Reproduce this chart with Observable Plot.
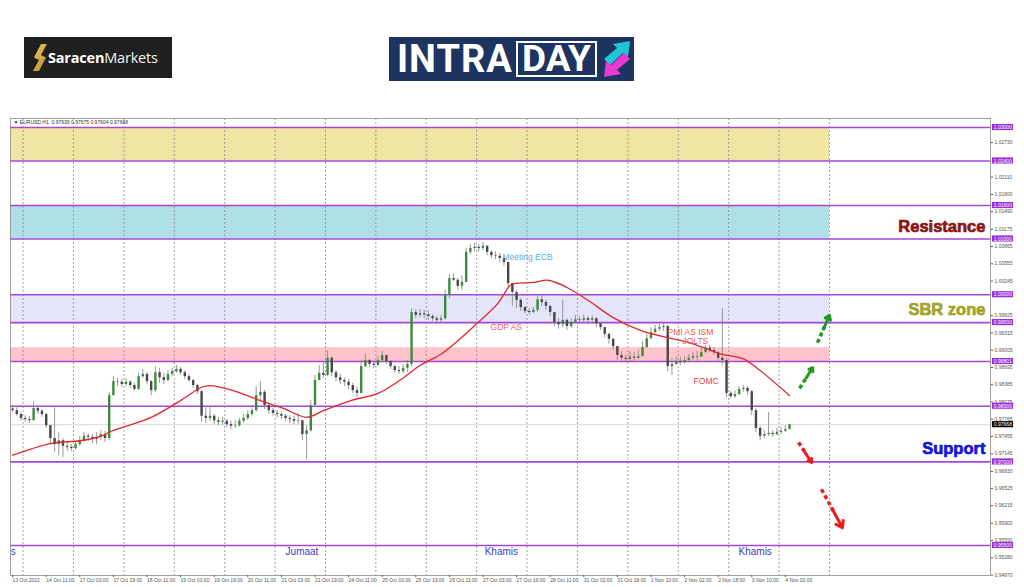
<!DOCTYPE html>
<html><head><meta charset="utf-8">
<script src="https://cdn.jsdelivr.net/npm/d3@7"></script>
<script src="https://cdn.jsdelivr.net/npm/@observablehq/plot@0.6"></script>
<style>
html,body{margin:0;padding:0;background:#fff;}
body{width:1024px;height:587px;overflow:hidden;font-family:"Liberation Sans",Arial,sans-serif;}
#header{position:relative;width:1024px;height:118px;}
.saracen{position:absolute;left:24px;top:37px;width:148px;height:41px;background:#1f1f1f;}
.saracen svg{position:absolute;left:9px;top:7px;}
.saracen .sname{position:absolute;left:24px;top:0;line-height:41px;font-family:"Open Sans","Liberation Sans",sans-serif;font-size:14.5px;color:#fff;letter-spacing:-0.2px;white-space:nowrap;}
.saracen .sname b{font-weight:700;}
.saracen .sname span{font-weight:400;color:#f2f2f2;}
.intraday{position:absolute;left:389px;top:37px;width:245px;height:44px;background:#1d3461;}
.intraday .intra{position:absolute;left:8px;top:0;height:44px;line-height:44px;font-family:Roboto,"Liberation Sans",sans-serif;font-weight:700;font-size:38px;letter-spacing:1px;color:#fff;white-space:nowrap;}
.intraday .day{position:absolute;left:127px;top:4px;width:77px;height:32px;border:2.5px solid #fff;line-height:32px;text-align:center;font-family:Roboto,"Liberation Sans",sans-serif;font-weight:700;font-size:37px;color:#fff;white-space:nowrap;}
.intraday svg{position:absolute;left:213px;top:3px;}
#chart svg{display:block;}
</style></head>
<body>
<div id="header">
  <div class="saracen">
    <svg width="14" height="27" viewBox="0 0 14 27">
      <defs><linearGradient id="gold" x1="0" y1="0" x2="1" y2="1"><stop offset="0" stop-color="#f5cd62"/><stop offset="1" stop-color="#b7852b"/></linearGradient></defs>
      <path d="M8 0 L14 0 L8 11 L13 13.5 L6 27 L0 27 L6 16 L1 13.5 Z" fill="url(#gold)"/>
    </svg>
    <span class="sname"><b>Saracen</b><span>Markets</span></span>
  </div>
  <div class="intraday">
    <span class="intra">INTRA</span><span class="day">DAY</span>
    <svg width="30" height="38" viewBox="0 0 30 38">
      <polygon points="2,19 15,8 11,4 28,1 26,17 21,13 8,25" fill="#21c6d6"/>
      <polygon points="28,19 15,30 19,34 2,37 4,21 9,25 22,13" fill="#e83ad0"/>
    </svg>
  </div>
</div>
<div id="chart"></div>
<script>
// ---------- data ----------
const symbolInfo = "\u25BC EURUSD,H1  0.97639 0.97675 0.97604 0.97668";
const firstOpen = 0.9795;
// 2-hour candles, starting 13 Oct 2022 19:00
const closes = [
0.9792,0.9785,0.9778,0.9776,0.9774,0.9796,0.9791,0.9785,0.9765,0.9742,
0.9731,0.9738,0.9728,0.9726,0.9724,0.9731,0.9738,0.9746,0.9744,0.9740,
0.9744,0.9749,0.9742,0.9819,0.9844,0.9843,0.9839,0.9843,0.9837,0.9830,
0.9853,0.9857,0.9844,0.9828,0.9860,0.9851,0.9846,0.9857,0.9862,0.9866,
0.9860,0.9853,0.9846,0.9837,0.9826,0.9782,0.9778,0.9782,0.9774,0.9771,
0.9773,0.9767,0.9764,0.9765,0.9773,0.9778,0.9785,0.9792,0.9819,0.9825,
0.9801,0.9792,0.9787,0.9785,0.9782,0.9778,0.9776,0.9773,0.9774,0.9749,
0.9756,0.9801,0.9846,0.9859,0.9855,0.9886,0.9860,0.9851,0.9846,0.9843,
0.9837,0.9828,0.9823,0.9871,0.9882,0.9875,0.9873,0.9882,0.9891,0.9880,
0.9871,0.9864,0.9862,0.9868,0.9875,0.9968,0.9963,0.9966,0.9964,0.9961,
0.9957,0.9954,0.9957,0.9999,1.0029,1.0026,1.0015,1.0022,1.0076,1.0083,
1.0085,1.0083,1.0087,1.0076,1.0070,1.0069,1.0065,1.0058,1.0020,1.0004,
0.9990,0.9977,0.9970,0.9968,0.9972,0.9991,0.9986,0.9979,0.9968,0.9950,
0.9946,0.9954,0.9943,0.9950,0.9955,0.9954,0.9957,0.9954,0.9957,0.9948,
0.9941,0.9929,0.9920,0.9907,0.9891,0.9886,0.9884,0.9888,0.9886,0.9889,
0.9905,0.9921,0.9932,0.9938,0.9941,0.9943,0.9871,0.9875,0.9880,0.9878,
0.9882,0.9886,0.9889,0.9888,0.9896,0.9904,0.9900,0.9896,0.9886,0.9882,
0.9823,0.9817,0.9821,0.9830,0.9832,0.9826,0.9792,0.9760,0.9746,0.9749,
0.9751,0.9749,0.9753,0.9755,0.9758,0.97668];
const highs = [
0.9801,0.9797,0.9789,0.9783,0.9782,0.9807,0.9799,0.9794,0.9787,0.9765,
0.9797,0.9753,0.9742,0.9735,0.9731,0.9735,0.9746,0.9753,0.9751,0.9749,
0.9753,0.9756,0.9755,0.9825,0.9853,0.9850,0.9848,0.9850,0.9846,0.9841,
0.9860,0.9866,0.9860,0.9846,0.9871,0.9868,0.9859,0.9864,0.9868,0.9873,
0.9869,0.9864,0.9857,0.9848,0.9839,0.9828,0.9797,0.9799,0.9785,0.9780,
0.9780,0.9776,0.9773,0.9774,0.9778,0.9785,0.9792,0.9801,0.9835,0.9844,
0.9828,0.9803,0.9796,0.9792,0.9789,0.9785,0.9783,0.9782,0.9787,0.9774,
0.9765,0.9810,0.9855,0.9873,0.9878,0.9900,0.9889,0.9864,0.9857,0.9851,
0.9848,0.9841,0.9834,0.9882,0.9893,0.9884,0.9880,0.9889,0.9898,0.9891,
0.9882,0.9873,0.9871,0.9875,0.9882,0.9975,0.9973,0.9973,0.9972,0.9970,
0.9964,0.9961,0.9963,1.0008,1.0036,1.0038,1.0029,1.0034,1.0083,1.0090,
1.0092,1.0090,1.0094,1.0088,1.0079,1.0077,1.0074,1.0068,1.0058,1.0020,
1.0008,0.9993,0.9979,0.9975,0.9977,0.9997,0.9997,0.9990,0.9981,0.9968,
0.9957,0.9990,0.9957,0.9957,0.9963,0.9961,0.9964,0.9961,0.9963,0.9959,
0.9950,0.9941,0.9930,0.9921,0.9907,0.9898,0.9891,0.9898,0.9896,0.9900,
0.9916,0.9930,0.9941,0.9945,0.9948,0.9950,0.9945,0.9886,0.9888,0.9888,
0.9889,0.9893,0.9896,0.9898,0.9904,0.9909,0.9909,0.9905,0.9898,0.9975,
0.9886,0.9826,0.9828,0.9835,0.9837,0.9835,0.9828,0.9796,0.9764,0.9756,
0.9789,0.9756,0.9760,0.9762,0.9765,0.97675];
const lows = [
0.9789,0.9782,0.9773,0.9771,0.9769,0.9773,0.9785,0.9780,0.9760,0.9733,
0.9717,0.9711,0.9708,0.9719,0.9719,0.9721,0.9728,0.9735,0.9737,0.9733,
0.9731,0.9738,0.9735,0.9738,0.9819,0.9835,0.9834,0.9835,0.9832,0.9826,
0.9828,0.9850,0.9839,0.9819,0.9825,0.9841,0.9839,0.9844,0.9853,0.9859,
0.9855,0.9848,0.9843,0.9832,0.9821,0.9771,0.9769,0.9773,0.9767,0.9765,
0.9765,0.9762,0.9758,0.9760,0.9762,0.9769,0.9774,0.9782,0.9789,0.9810,
0.9794,0.9785,0.9782,0.9778,0.9776,0.9773,0.9769,0.9767,0.9767,0.9738,
0.9704,0.9753,0.9801,0.9846,0.9850,0.9853,0.9853,0.9844,0.9839,0.9835,
0.9830,0.9823,0.9815,0.9821,0.9869,0.9869,0.9867,0.9871,0.9880,0.9875,
0.9866,0.9859,0.9857,0.9859,0.9860,0.9871,0.9957,0.9959,0.9957,0.9954,
0.9952,0.9948,0.9950,0.9954,0.9993,1.0024,1.0008,1.0008,1.0024,1.0072,
1.0077,1.0076,1.0079,1.0070,1.0065,1.0063,1.0058,1.0051,1.0011,0.9979,
0.9975,0.9970,0.9966,0.9964,0.9966,0.9968,0.9979,0.9972,0.9961,0.9943,
0.9938,0.9941,0.9936,0.9939,0.9948,0.9948,0.9950,0.9946,0.9950,0.9941,
0.9936,0.9923,0.9911,0.9900,0.9882,0.9878,0.9878,0.9880,0.9880,0.9884,
0.9888,0.9904,0.9920,0.9930,0.9934,0.9934,0.9862,0.9855,0.9873,0.9873,
0.9875,0.9878,0.9882,0.9880,0.9888,0.9898,0.9896,0.9891,0.9878,0.9873,
0.9815,0.9814,0.9814,0.9819,0.9825,0.9819,0.9783,0.9753,0.9738,0.9742,
0.9746,0.9744,0.9747,0.9749,0.9753,0.97604];

// moving average (red line): hour index -> price
const maHours  = [0,18,32,42,47,66,80,90,94,105,118,129,140,148,161,174,185,194,205,221,231,237,239,248,255,264,274,286,299,312,324,337,348,356,370];
const maValues = [0.9712,0.9733,0.9738,0.9746,0.9755,0.9780,0.9810,0.9834,0.9837,0.9828,0.9810,0.9796,0.9780,0.9792,0.9810,0.9823,0.9848,0.9873,0.9896,0.9948,0.9984,1.0017,1.0020,1.0022,1.0026,1.0013,0.9990,0.9959,0.9936,0.9923,0.9912,0.9894,0.9885,0.9864,0.9819];

// horizontal levels and zones
const levels = [1.03000,1.02400,1.01600,1.01000,1.00000,0.99500,0.98801,0.98000,0.97000,0.95500];
const currentPrice = 0.97668;
const zoneFrom  = [1.0240, 1.0100, 0.9950, 0.98801];
const zoneTo    = [1.0300, 1.0160, 1.0000, 0.9905];
const zoneColor = ["#efe6a3", "#afe0e7", "#e5e5fa", "#ffc3cc"];
const zoneEndHour = 389;

// axes (ticks hidden behind level boxes in the reference are left out)
const yTicks = [1.0273,1.0211,1.0180,1.0149,1.01175,1.00865,1.00555,1.00245,0.99625,0.99315,0.99005,0.98695,0.98385,0.98075,0.97765,0.97455,0.97145,0.96830,0.96525,0.96215,0.95900,0.95590,0.95280,0.94970];
const xTickHours = [0,16,32,48,64,80,96,112,128,144,160,176,192,208,224,240,256,272,288,304,320,336,352,368];
const xTickLabels = ["13 Oct 2022","14 Oct 11:00","17 Oct 03:00","17 Oct 19:00","18 Oct 11:00","19 Oct 03:00","19 Oct 19:00","20 Oct 11:00","21 Oct 03:00","21 Oct 19:00","24 Oct 11:00","25 Oct 03:00","25 Oct 19:00","26 Oct 11:00","27 Oct 03:00","27 Oct 19:00","28 Oct 11:00","31 Oct 02:00","31 Oct 18:00","1 Nov 10:00","2 Nov 02:00","2 Nov 18:00","3 Nov 10:00","4 Nov 02:00"];
const dayGridHours = [5,29,53,77,101,125,149,173,197,221,245,269,293,317,341,365,389];

// annotations
const eventLabels = ["Meeting ECB","GDP AS","PMI AS ISM","JOLTS","FOMC"];
const eventHours  = [233.3, 227.6, 311.9, 319, 324.3];
const eventPrices = [1.0067, 0.9941, 0.99325, 0.99165, 0.9844];
const eventColors = ["#5aaae8","#e86a6a","#e25656","#e25f5f","#e04545"];
const dayLabels = ["s","Jumaat","Khamis","Khamis"];
const dayHours  = [-0.9, 130, 224.8, 345.7];
const dayPrice  = 0.9539;
const zoneLabels = ["Resistance","SBR zone","Support"];
const zoneLabelPrices = [1.0122, 0.99735, 0.9724];
const zoneLabelColors = ["#8c1414","#a3a32a","#1414d8"];
const zoneLabelHour = 463.3;
// scenario arrows: [startHour, startPrice, endHour, endPrice]
const upArrows   = [[374.8,0.9832,381.0,0.9869],[383.3,0.9914,389.0,0.9963]];
const downArrows = [[374.3,0.9735,380.5,0.9699],[385.2,0.9651,395.2,0.9582]];

// ---------- build ----------
const xMin = -1, xMax = 465.7;
const yMin = 0.94962, yMax = 1.03162;
const candles = closes.map((c, i) => {
  const o = i === 0 ? firstOpen : closes[i - 1];
  return {h: 2 * i, o, c, hi: Math.max(highs[i], o, c), lo: Math.min(lows[i], o, c), up: c >= o};
});
const ma = maHours.map((h, i) => ({h, v: maValues[i]}));
const boxHalf = 0.00055;

function arrowMarks(list, color) {
  const shafts = list.map(([x1,y1,x2,y2]) => ({x1, y1, x2: x1 + (x2-x1)*0.6, y2: y1 + (y2-y1)*0.6}));
  const heads = list.map(([x1,y1,x2,y2]) => ({x1: x1 + (x2-x1)*0.5, y1: y1 + (y2-y1)*0.5, x2, y2}));
  return [
    Plot.link(shafts, {x1:"x1", y1:"y1", x2:"x2", y2:"y2", stroke: color, strokeWidth: 3.5, strokeDasharray: "4,3"}),
    Plot.arrow(heads, {x1:"x1", y1:"y1", x2:"x2", y2:"y2", stroke: color, strokeWidth: 3, headLength: 9, headAngle: 70})
  ];
}

const marks = [
  ...zoneFrom.map((f, i) => Plot.rect([0], {x1: xMin, x2: zoneEndHour, y1: f, y2: zoneTo[i], fill: zoneColor[i]})),
  Plot.ruleY([currentPrice], {stroke: "#cfcfcf", strokeWidth: 0.8}),
  Plot.ruleX(dayGridHours, {stroke: "#8a8a8a", strokeWidth: 0.8, strokeDasharray: "2,2"}),
  Plot.ruleY(levels, {stroke: "#a646d6", strokeWidth: 1.6}),
  Plot.ruleX(candles, {x: "h", y1: "lo", y2: "hi", stroke: "#808080", strokeWidth: 0.8}),
  Plot.ruleX(candles.filter(d => d.up), {x: "h", y1: "o", y2: "c", stroke: "#3b8a3b", strokeWidth: 2.4}),
  Plot.ruleX(candles.filter(d => !d.up), {x: "h", y1: "o", y2: "c", stroke: "#474747", strokeWidth: 2.4}),
  Plot.line(ma, {x: "h", y: "v", stroke: "#e0282a", strokeWidth: 1.3, curve: "catmull-rom"}),
  ...eventLabels.map((t, i) => Plot.text([t], {x: eventHours[i], y: eventPrices[i], text: d => d, textAnchor: "start", fill: eventColors[i], fontSize: 8.5})),
  ...dayLabels.map((t, i) => Plot.text([t], {x: dayHours[i], y: dayPrice, text: d => d, textAnchor: "start", fill: "#3c3cc8", fontSize: 10})),
  ...zoneLabels.map((t, i) => Plot.text([t], {x: zoneLabelHour, y: zoneLabelPrices[i], text: d => d, textAnchor: "end", fill: zoneLabelColors[i], stroke: zoneLabelColors[i], strokeWidth: 0.7, fontSize: 16.5, fontWeight: "bold"})),
  ...arrowMarks(upArrows, "#1f9a1f"),
  ...arrowMarks(downArrows, "#ee1c1c"),
  Plot.text([symbolInfo], {frameAnchor: "top-left", dx: 3, dy: 2, text: d => d, fontSize: 5, fill: "#333"}),
  Plot.frame({stroke: "#8c8c8c", strokeWidth: 0.8}),
  Plot.axisY({anchor: "right", ticks: yTicks, tickFormat: d => d.toFixed(5), tickSize: 2, tickPadding: 2, fontSize: 5, color: "#555"}),
  Plot.axisX({anchor: "bottom", ticks: xTickHours, tickFormat: d => xTickLabels[xTickHours.indexOf(d)], tickSize: 2, tickPadding: 0.5, textAnchor: "start", fontSize: 5, color: "#555"}),
  Plot.rect(levels, {x1: xMax + 0.9, x2: xMax + 11, y1: d => d - boxHalf, y2: d => d + boxHalf, fill: "#9a30d8"}),
  Plot.text(levels, {x: xMax + 1.6, y: d => d, text: d => d.toFixed(5), textAnchor: "start", fill: "#fff", fontSize: 5}),
  Plot.rect([currentPrice], {x1: xMax + 0.9, x2: xMax + 11, y1: d => d - boxHalf, y2: d => d + boxHalf, fill: "#000"}),
  Plot.text([currentPrice], {x: xMax + 1.6, y: d => d, text: d => d.toFixed(5), textAnchor: "start", fill: "#fff", fontSize: 5})
];

const chart = Plot.plot({
  width: 1024, height: 469,
  marginTop: 0, marginBottom: 12, marginLeft: 10, marginRight: 34,
  x: {domain: [xMin, xMax]},
  y: {domain: [yMin, yMax]},
  style: {fontFamily: "'Liberation Sans', Arial, sans-serif", background: "#fff", overflow: "visible"},
  marks
});
document.getElementById("chart").append(chart);
</script>
</body></html>
